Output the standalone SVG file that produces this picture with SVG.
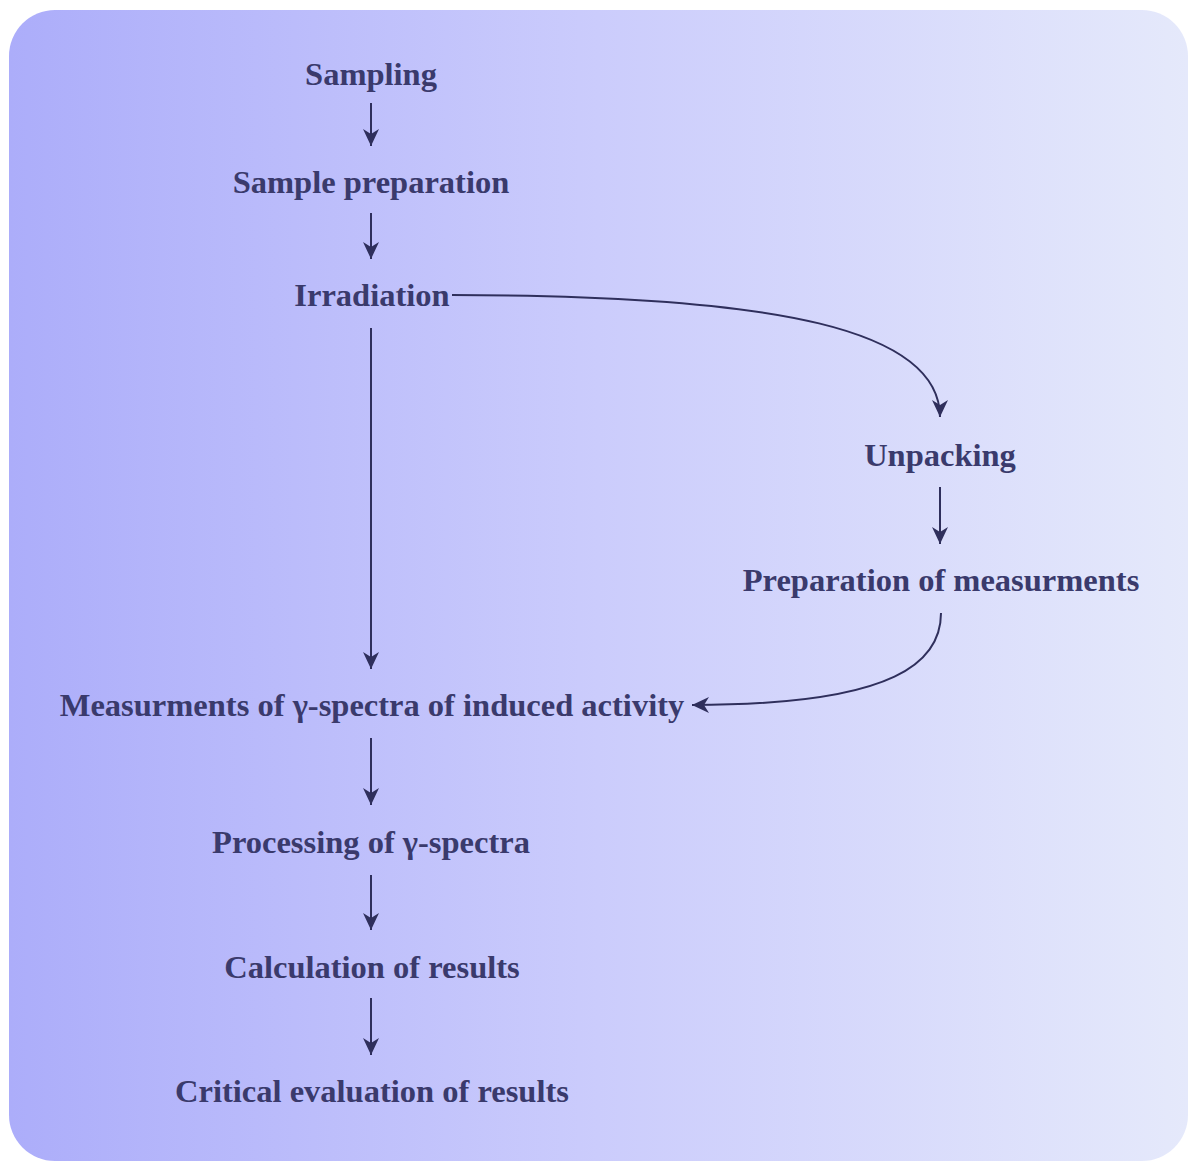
<svg xmlns="http://www.w3.org/2000/svg" width="1189" height="1162" viewBox="0 0 1189 1162">
<defs>
<linearGradient id="bg" x1="0" y1="0" x2="1" y2="0">
<stop offset="0" stop-color="#acadfa"/>
<stop offset="0.5" stop-color="#cbccfc"/>
<stop offset="1" stop-color="#e5e9fb"/>
</linearGradient>
<marker id="arr" markerUnits="userSpaceOnUse" markerWidth="18" markerHeight="16" refX="17" refY="8" orient="auto">
<path d="M0,0 L17,8 L0,16 L5,8 z" fill="#2f2f5c"/>
</marker>
<style>
.t{font-weight:bold;font-size:32.5px;fill:#3a3a6c;text-anchor:middle}
.c{fill:none;stroke:#2f2f5c;stroke-width:2;marker-end:url(#arr)}
</style>
</defs>
<rect x="0" y="0" width="1189" height="1162" fill="#ffffff"/>
<rect x="9" y="10" width="1179" height="1151" rx="46" ry="46" fill="url(#bg)"/>
<g id="connectors">
<path class="c" d="M371,103 L371,146"/>
<path class="c" d="M371,213 L371,259"/>
<path class="c" d="M371,328 L371,669"/>
<path class="c" d="M371,738 L371,805"/>
<path class="c" d="M371,875 L371,930"/>
<path class="c" d="M371,998 L371,1055"/>
<path class="c" d="M940,487 L940,544"/>
<path class="c" d="M452,295 C780,295 940,330 940,417"/>
<path class="c" d="M941,613 C941,660 900,705 692,705"/>
</g>
<g id="n-sampling"><text class="t" font-family="Liberation Serif, DejaVu Serif, serif" x="371" y="85">Sampling</text></g>
<g id="n-sampleprep"><text class="t" font-family="Liberation Serif, DejaVu Serif, serif" x="371" y="193">Sample preparation</text></g>
<g id="n-irradiation"><text class="t" font-family="Liberation Serif, DejaVu Serif, serif" x="372" y="306">Irradiation</text></g>
<g id="n-unpacking"><text class="t" font-family="Liberation Serif, DejaVu Serif, serif" x="940" y="466">Unpacking</text></g>
<g id="n-prepmeas"><text class="t" font-family="Liberation Serif, DejaVu Serif, serif" x="941" y="591">Preparation of measurments</text></g>
<g id="n-meas"><text class="t" font-family="Liberation Serif, DejaVu Serif, serif" x="372" y="716">Measurments of γ-spectra of induced activity</text></g>
<g id="n-processing"><text class="t" font-family="Liberation Serif, DejaVu Serif, serif" x="371" y="853">Processing of γ-spectra</text></g>
<g id="n-calc"><text class="t" font-family="Liberation Serif, DejaVu Serif, serif" x="372" y="978">Calculation of results</text></g>
<g id="n-critical"><text class="t" font-family="Liberation Serif, DejaVu Serif, serif" x="372" y="1102">Critical evaluation of results</text></g>
</svg>
